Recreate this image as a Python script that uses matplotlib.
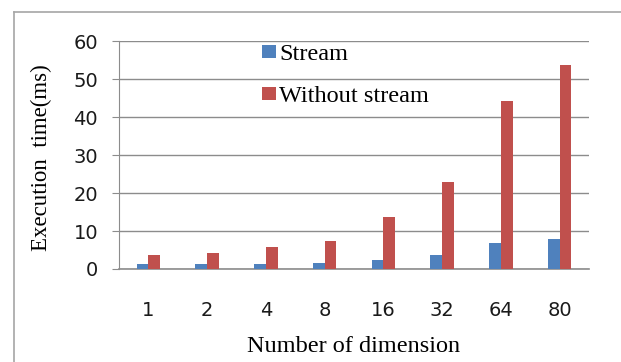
import matplotlib
matplotlib.use("Agg")
import matplotlib.pyplot as plt
import numpy as np
from matplotlib.lines import Line2D
from matplotlib.patches import Patch

categories = ["1", "2", "4", "8", "16", "32", "64", "80"]
stream = [1.3, 1.3, 1.3, 1.6, 2.5, 3.7, 6.8, 8.0]
without_stream = [3.7, 4.1, 5.7, 7.4, 13.8, 22.9, 44.2, 53.8]
series_names = ["Stream", "Without stream"]
yticks = [0, 10, 20, 30, 40, 50, 60]

blue = "#4F81BD"
red = "#C0504D"
grid_c = "#8C8C8C"

W, H = 621, 362
fig = plt.figure(figsize=(W / 100, H / 100), dpi=100)

# outer frame
fig.add_artist(Line2D([14 / W, 14 / W], [0, 1 - 12 / H], color="#A6A6A6", lw=1.2, transform=fig.transFigure))
fig.add_artist(Line2D([14 / W, 1], [1 - 12 / H, 1 - 12 / H], color="#A6A6A6", lw=1.2, transform=fig.transFigure))

ax = fig.add_axes([119 / W, 1 - 269 / H, (589 - 119) / W, (269 - 41) / H])
x = np.arange(len(categories))
bw = 0.2
ax.bar(x - bw / 2, stream, bw, color=blue, label=series_names[0], zorder=3)
ax.bar(x + bw / 2, without_stream, bw, color=red, label=series_names[1], zorder=3)

ax.set_xlim(-0.5, len(categories) - 0.5)
ax.set_ylim(0, 60)
ax.set_yticks(yticks)
ax.set_xticks(x)
ax.set_xticklabels(categories)
ax.yaxis.grid(True, color=grid_c, lw=1.0, zorder=0)
ax.set_axisbelow(True)
for s in ["top", "right"]:
    ax.spines[s].set_visible(False)
ax.spines["left"].set_color(grid_c)
ax.spines["bottom"].set_color(grid_c)
ax.spines["bottom"].set_linewidth(1.2)
ax.tick_params(axis="y", length=5, color=grid_c, pad=10, labelsize=14)
ax.tick_params(axis="x", length=0, pad=23, labelsize=14)
for t in ax.get_xticklabels() + ax.get_yticklabels():
    t.set_fontfamily("DejaVu Sans")
    t.set_color("#1a1a1a")

serif = "Liberation Serif"
fig.text(41.6 / W, 1 - 158 / H, "Execution  time(ms)", rotation=90, ha="center", va="center",
         fontsize=16.5, family=serif)
fig.text(354 / W, 1 - 347 / H, "Number of dimension", ha="center", va="center",
         fontsize=17.5, family=serif)

handles = [Patch(facecolor=blue), Patch(facecolor=red)]
leg = ax.legend(handles, series_names, loc="upper left", bbox_to_anchor=(250 / W, 1 - 32 / H),
                bbox_transform=fig.transFigure, frameon=False, borderpad=0,
                handlelength=0.55, handleheight=0.45, handletextpad=0.15, labelspacing=0.85,
                prop={"family": serif, "size": 17.5})

fig.savefig("out.png", dpi=100)
